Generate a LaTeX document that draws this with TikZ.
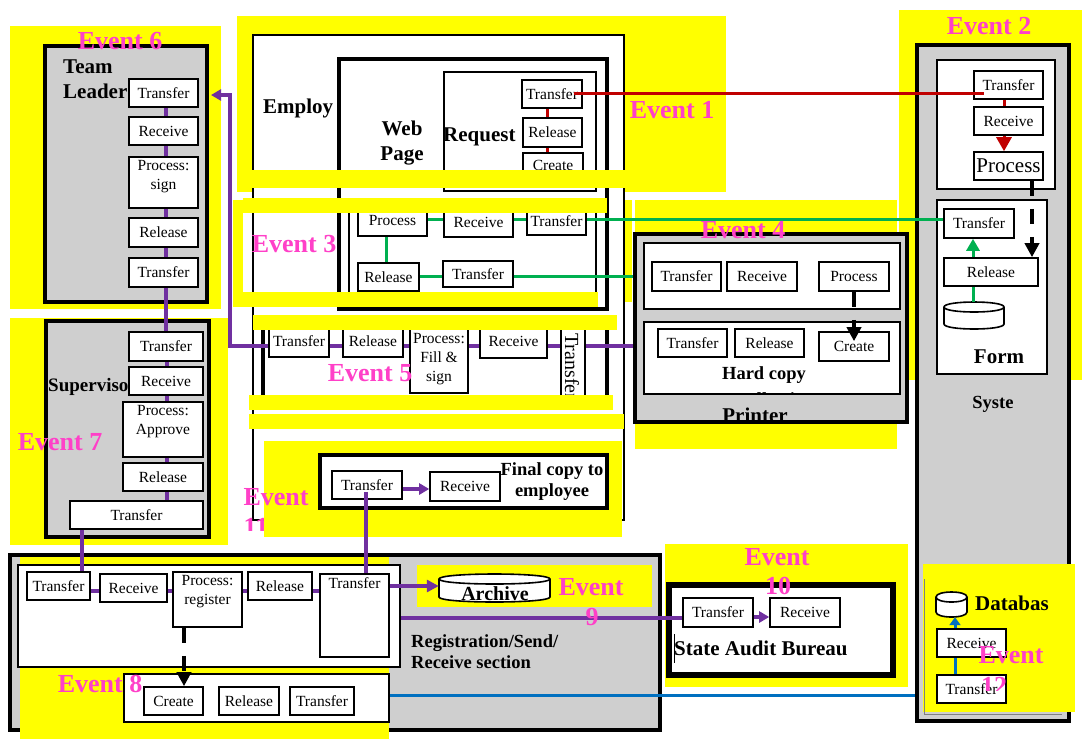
\documentclass[tikz,border=0pt]{standalone}
\usepackage{fontspec}
\setmainfont{Liberation Serif}
\usetikzlibrary{arrows.meta,calc}
\definecolor{evt}{RGB}{255,64,200}
\definecolor{pur}{RGB}{112,48,160}
\definecolor{grn}{RGB}{0,176,80}
\definecolor{redl}{RGB}{192,0,0}
\definecolor{blu}{RGB}{0,112,192}
\definecolor{gbox}{RGB}{207,207,207}
\definecolor{ylw}{RGB}{255,255,0}
\newcommand\bxfont{\fontsize{15.5}{19}\selectfont}
% box given by its corners: [style]{x1}{y1}{x2}{y2}{name}{text}
\newcommand\rbox[7][]{\node[#1,minimum width={(#4)-(#2)},minimum height={(#5)-(#3)}] (#6) at ({((#2)+(#4))/2},{((#3)+(#5))/2}) {#7};}
\newcommand\yfill[4]{\fill[ylw] (#1,#2) rectangle (#3,#4);}
% upright cylinder: {name}{x1}{y1}{x2}{y2}{ellipse half height}
\newcommand\cylnode[6]{%
  \filldraw[fill=white,line width=1.6pt] (#2,{#3+#6}) -- (#2,{#5-#6})
    .. controls (#2,{#5+#6/3}) and (#4,{#5+#6/3}) .. (#4,{#5-#6}) -- (#4,{#3+#6})
    .. controls (#4,{#3-#6/3}) and (#2,{#3-#6/3}) .. (#2,{#3+#6}) -- cycle;
  \draw[line width=1.6pt] (#2,{#3+#6}) .. controls (#2,{#3+#6*7/3}) and (#4,{#3+#6*7/3}) .. (#4,{#3+#6});
  \node[inner sep=0pt,minimum width={(#4)-(#2)},minimum height={(#5)-(#3)}] (#1) at ({((#2)+(#4))/2},{((#3)+(#5))/2}) {};}
\begin{document}
\begin{tikzpicture}[x=1pt,y=-1pt,
  sbox/.style={draw,fill=white,line width=1.6pt,inner sep=0pt,align=center,font=\bxfont},
  plbl/.style={anchor=north,align=center,inner sep=4pt,font=\bxfont},
  frame/.style={draw,fill=white,line width=1.8pt,inner sep=0pt},
  heavy/.style={draw,fill=gbox,line width=4pt,inner sep=0pt},
  lblB/.style={inner sep=0pt,font=\bfseries\fontsize{21}{25}\selectfont},
  lblM/.style={inner sep=0pt,font=\bfseries\fontsize{18.5}{21}\selectfont},
  evlab/.style={inner sep=0pt,text=evt,font=\bfseries\fontsize{26}{28}\selectfont},
  pline/.style={draw=pur,line width=3.5pt},
  gline/.style={draw=grn,line width=3pt},
  rline/.style={draw=redl,line width=3pt},
  bline/.style={draw=blu,line width=3pt},
  kdash/.style={draw=black,line width=4pt,dash pattern=on 15pt off 13pt,-{Triangle[length=14pt,width=14pt]}},
]
\useasboundingbox (0,0) rectangle (1084,740);
\fill[white] (0,0) rectangle (1084,740);

% ---------- highlighted event areas (behind) ----------
\yfill{10}{26}{221}{309}
\yfill{10}{318}{228}{545}
\yfill{237}{16}{726}{192}
\yfill{899}{10}{1082}{380}
\yfill{635}{200}{897}{449}
\yfill{665}{544}{908}{687}

% ---------- Team Leader ----------
\rbox[heavy]{45}{46}{207}{302}{tl}{}
\node[lblB,anchor=west,align=left] (tlname) at (63,79) {Team\\Leader};
\rbox[sbox]{129}{79}{198}{107}{tlT1}{Transfer}
\rbox[sbox]{129}{117}{198}{145}{tlR}{Receive}
\rbox[sbox,label={[plbl]north:{Process:\\sign}}]{129}{157}{198}{208}{tlP}{}
\rbox[sbox]{129}{218}{198}{247}{tlRel}{Release}
\rbox[sbox]{129}{258}{198}{287}{tlT2}{Transfer}

% ---------- Supervisor ----------
\rbox[heavy]{46}{321}{209}{537}{sup}{}
\node[inner sep=0pt,font=\bfseries\fontsize{19}{22}\selectfont,anchor=west] (supname) at (48,387) {Supervisor};
\rbox[sbox]{129}{332}{203}{361}{sT1}{Transfer}
\rbox[sbox]{129}{367}{203}{395}{sR}{Receive}
\rbox[sbox,label={[plbl]north:{Process:\\Approve}}]{123}{402}{203}{457}{sP}{}
\rbox[sbox]{123}{463}{203}{491}{sRel}{Release}
\rbox[sbox]{70}{501}{203}{529}{sT2}{Transfer}

% ---------- Employee / Web page ----------
\rbox[frame]{253}{35}{624}{520}{emp}{}
\node[lblB,anchor=west] (empname) at (263,108) {Employ};
\rbox[frame,line width=4pt]{339}{59}{607}{309}{web}{}
\node[lblB,align=center] (webname) at (402,143) {Web\\Page};
\rbox[frame]{444}{72}{596}{191}{req}{}
\node[lblB,anchor=west] (reqname) at (443,137) {Request};
\rbox[sbox]{522}{80}{582}{108}{rqT}{Transfer}
\rbox[sbox]{523}{118}{582}{147}{rqRel}{Release}
\rbox[sbox]{523}{153}{583}{178}{rqC}{Create}

\rbox[frame,line width=1.2pt]{349}{205}{596}{298}{wp3}{}
\rbox[sbox]{358}{205}{427}{236}{e3P}{Process}
\rbox[sbox]{444}{208}{513}{237}{e3R}{Receive}
\rbox[sbox]{527}{207}{586}{235}{e3T}{Transfer}
\rbox[sbox]{358}{263}{419}{291}{e3Rel}{Release}
\rbox[sbox]{443}{261}{513}{287}{e3T2}{Transfer}

\rbox[frame,line width=4pt]{263}{318}{607}{402}{e5box}{}
\rbox[sbox]{269}{325}{329}{357}{e5T}{Transfer}
\rbox[sbox]{343}{325}{403}{357}{e5Rel}{Release}
\rbox[sbox,label={[plbl,inner sep=9pt]north:{Process:\\Fill \&\\sign}}]{410}{325}{468}{393}{e5P}{}
\rbox[sbox]{480}{325}{547}{358}{e5R}{Receive}
\rbox[sbox]{561}{320}{585}{402}{e5Tv}{}
\node[inner sep=0pt,font=\fontsize{20}{22}\selectfont,rotate=-90,anchor=west] (e5Tvtxt) at (572,333) {Transfer};

% ---------- System ----------
\rbox[heavy]{917}{45}{1069}{721}{sys}{}
\node[inner sep=0pt,font=\bfseries\fontsize{18.5}{21}\selectfont] (sysname) at (993,404) {Syste};
\rbox[frame]{937}{60}{1055}{189}{sys2}{}
\rbox[sbox]{974}{71}{1043}{99}{s2T}{Transfer}
\rbox[sbox]{974}{107}{1043}{135}{s2R}{Receive}
\rbox[sbox,font=\fontsize{21}{24}\selectfont]{974}{152}{1043}{180}{s2P}{Process}
\rbox[frame]{937}{200}{1047}{374}{form}{}
\rbox[sbox]{944}{209}{1014}{238}{fT}{Transfer}
\rbox[sbox]{944}{258}{1038}{286}{fRel}{Release}
\cylnode{fCyl}{944}{302}{1004}{329}{5}
\node[lblB] (formname) at (999,357) {Form};

\yfill{923}{564}{1075}{712}
\draw[gray,line width=0.8pt] (924,579) -- (924,714) -- (1062,714);
\cylnode{dbCyl}{936}{592}{967}{617}{5}
\node[lblB,anchor=west] (dbname) at (975,603) {Databas};
\rbox[sbox]{937}{629}{1006}{657}{dbR}{Receive}
\rbox[sbox]{937}{675}{1006}{703}{dbT}{Transfer}

% ---------- Printer ----------
\rbox[heavy]{635}{234}{907}{422}{prn}{}
\rbox[frame]{644}{243}{900}{309}{prn1}{}
\rbox[frame]{644}{322}{900}{394}{prn2}{}
\rbox[sbox]{652}{262}{721}{291}{pT}{Transfer}
\rbox[sbox]{727}{262}{797}{291}{pR}{Receive}
\rbox[sbox]{819}{262}{889}{291}{pP}{Process}
\rbox[sbox]{658}{329}{727}{357}{pT2}{Transfer}
\rbox[sbox]{735}{329}{804}{357}{pRel}{Release}
\rbox[sbox]{819}{332}{889}{361}{pC}{Create}
\node[lblM] (hardcopy) at (764,375) {Hard copy};
\begin{scope}
  \clip (646,324) rectangle (898,393);
  \node[lblM] (hardcopy2) at (777,399) {collection};
\end{scope}
\node[lblB] (prnname) at (755,415) {Printer};

% ---------- Final copy ----------
\yfill{264}{441}{622}{537}
\rbox[frame,line width=4pt]{320}{455}{607}{508}{fc}{}
\rbox[sbox]{332}{471}{402}{499}{fcT}{Transfer}
\rbox[sbox]{430}{472}{500}{501}{fcR}{Receive}
\node[lblM,align=center] (fcname) at (552,482) {Final copy to\\employee};

% ---------- Registration / Send / Receive ----------
\rbox[heavy]{10}{555}{660}{730}{reg}{}
\yfill{20}{557}{389}{739}
\yfill{417}{565}{652}{607}
\rbox[frame]{18}{565}{400}{667}{rin}{}
\rbox[sbox]{27}{572}{90}{600}{rT1}{Transfer}
\rbox[sbox]{100}{574}{167}{602}{rR}{Receive}
\rbox[sbox,label={[plbl]north:{Process:\\register}}]{173}{572}{242}{627}{rP}{}
\rbox[sbox]{248}{572}{312}{600}{rRel}{Release}
\rbox[sbox,label={[plbl]north:Transfer}]{320}{574}{389}{657}{rT2}{}
\rbox[frame]{124}{674}{389}{722}{e8box}{}
\rbox[sbox]{144}{687}{203}{715}{e8C}{Create}
\rbox[sbox]{219}{687}{279}{715}{e8Rel}{Release}
\rbox[sbox]{290}{687}{354}{715}{e8T}{Transfer}
\cylnode{archive}{439}{574}{550}{602}{5}
\node[inner sep=0pt,font=\bfseries\fontsize{20}{22}\selectfont] (archtxt) at (495,594) {Archive};
\node[lblM,anchor=west,align=left] (regname) at (411,652) {Registration/Send/\\Receive section};

% ---------- State Audit Bureau ----------
\rbox[draw,fill=white,line width=6pt,inner sep=0pt]{669}{585}{893}{675}{sab}{}
\rbox[sbox]{683}{598}{753}{627}{sabT}{Transfer}
\rbox[sbox]{770}{598}{840}{627}{sabR}{Receive}
\node[lblB,anchor=west] (sabname) at (674,648) {State Audit Bureau};
\draw[line width=0.8pt] (674,634) -- (674,663);

% ---------- highlight strips laid over the boxes ----------
\yfill{237}{170}{726}{188}
\yfill{233}{200}{243}{307}
\yfill{243}{198}{607}{213}
\yfill{233}{292}{598}{307}
\yfill{625}{200}{632}{302}
\yfill{253}{315}{617}{330}
\yfill{249}{395}{613}{410}
\yfill{249}{414}{624}{429}

% ---------- alignment coordinates ----------
\coordinate (pl1) at (166,0);
\coordinate (pl2) at (167,0);
\coordinate (pl3) at (82,0);
\coordinate (pl4) at (0,591);
\coordinate (pl5) at (366,0);
\coordinate (pl6) at (0,489);
\coordinate (pl7) at (0,586);
\coordinate (pl8) at (0,618);
\coordinate (pl9) at (0,617);
\coordinate (pl10) at (0,346);
\coordinate (pl11) at (230,95);
\coordinate (g1) at (0,219);
\coordinate (g2) at (386,0);
\coordinate (g3) at (0,276);
\coordinate (g4) at (973,0);
\coordinate (r1) at (547,0);
\coordinate (r2) at (1004,0);
\coordinate (k1) at (1032,0);
\coordinate (k2) at (184,0);
\coordinate (b1) at (0,695);
\coordinate (b2) at (955,0);

% ---------- purple flow ----------
\draw[pline] (tlT1.south -| pl1) -- (tlR.north -| pl1);
\draw[pline] (tlR.south -| pl1) -- (tlP.north -| pl1);
\draw[pline] (tlP.south -| pl1) -- (tlRel.north -| pl1);
\draw[pline] (tlRel.south -| pl1) -- (tlT2.north -| pl1);
\draw[pline] (tlT2.south -| pl1) -- (sT1.north -| pl1);
\draw[pline] (sT1.south -| pl2) -- (sR.north -| pl2);
\draw[pline] (sR.south -| pl2) -- (sP.north -| pl2);
\draw[pline] (sP.south -| pl2) -- (sRel.north -| pl2);
\draw[pline] (sRel.south -| pl2) -- (sT2.north -| pl2);
\draw[pline] (sT2.south -| pl3) -- (rT1.north -| pl3);
\draw[pline] (rT1.east |- pl4) -- (rR.west |- pl4);
\draw[pline] (rR.east |- pl4) -- (rP.west |- pl4);
\draw[pline] (rP.east |- pl4) -- (rRel.west |- pl4);
\draw[pline] (rRel.east |- pl4) -- (rT2.west |- pl4);
\draw[pline] ($(fcT.south -| pl5)+(0,-8)$) -- (rT2.north -| pl5);
\draw[pline,-{Triangle[length=10pt,width=11pt]}] (fcT.east |- pl6) -- (fcR.west |- pl6);
\draw[pline,-{Triangle[length=12pt,width=12pt]}] (rT2.east |- pl7) -- (archive.west |- pl7);
\draw[pline] (rin.east |- pl8) -- (sabT.west |- pl8);
\draw[pline,-{Triangle[length=10pt,width=11pt]}] (sabT.east |- pl9) -- (sabR.west |- pl9);
\draw[pline] (e5T.east |- pl10) -- (e5Rel.west |- pl10);
\draw[pline] (e5Rel.east |- pl10) -- (e5P.west |- pl10);
\draw[pline] (e5P.east |- pl10) -- (e5R.west |- pl10);
\draw[pline] (e5R.east |- pl10) -- (e5Tv.west |- pl10);
\draw[pline] (e5Tv.east |- pl10) -- (prn.west |- pl10);
\draw[pline,-{Triangle[length=10pt,width=11pt]}] (e5T.west |- pl10) -| (pl11) -- ($(tl.east |- pl11)+(2,0)$);

% ---------- green flow ----------
\draw[gline] (e3P.east |- g1) -- (e3R.west |- g1);
\draw[gline] (e3R.east |- g1) -- (e3T.west |- g1);
\draw[gline] (e3T.east |- g1) -- (fT.west |- g1);
\draw[gline] (e3P.south -| g2) -- (e3Rel.north -| g2);
\draw[gline] (e3Rel.east |- g3) -- (e3T2.west |- g3);
\draw[gline] (e3T2.east |- g3) -- (prn.west |- g3);
\draw[gline] (fCyl.north -| g4) -- (fRel.south -| g4);
\draw[gline,-{Triangle[length=12pt,width=13pt]}] (fRel.north -| g4) -- (fT.south -| g4);

% ---------- red flow ----------
\draw[rline] (rqT.south -| r1) -- (rqRel.north -| r1);
\draw[rline] (rqRel.south -| r1) -- (rqC.north -| r1);
\coordinate (redA) at ($(rqT.east)+(-9,-1)$);
\draw[rline] (redA) -- ($(s2T.west |- redA)+(11,0)$);
\draw[rline] (s2T.south -| r2) -- (s2R.north -| r2);
\draw[rline,-{Triangle[length=14pt,width=15pt]}] (s2R.south -| r2) -- (s2P.north -| r2);

% ---------- black dashed flow ----------
\draw[kdash] (s2P.south -| k1) -- (fRel.north -| k1);
\draw[kdash] (pP.south) -- ($(pC.north)+(0,10)$);
\draw[kdash] (rP.south -| k2) -- (e8C.north -| k2);

% ---------- blue flow ----------
\draw[bline] (e8box.east |- b1) -- (sys.west |- b1);
\draw[bline] (dbT.north -| b2) -- (dbR.south -| b2);
\draw[bline,-{Triangle[length=8pt,width=11pt]}] (dbR.north -| b2) -- (dbCyl.south -| b2);

% ---------- event labels ----------
\node[evlab] (ev6) at (120,41) {Event 6};
\node[evlab] (ev1) at (672,110) {Event 1};
\node[evlab] (ev2) at (989,26) {Event 2};
\node[evlab] (ev3) at (294,244) {Event 3};
\node[evlab] (ev4) at (743,230) {Event 4};
\node[evlab] (ev5) at (370,373) {Event 5};
\node[evlab] (ev7) at (60,442) {Event 7};
\node[evlab] (ev8) at (100,684) {Event 8};
\node[evlab] (ev9a) at (591,587) {Event};
\node[evlab] (ev9b) at (592,617) {9};
\node[evlab] (ev10a) at (777,557) {Event};
\node[evlab] (ev10b) at (778,586) {10};
\node[evlab] (ev11a) at (276,497) {Event};
\begin{scope}
  \clip (235,505) rectangle (320,530);
  \node[evlab] (ev11b) at (256,527) {11};
\end{scope}
\node[evlab] (ev12a) at (1011,655) {Event};
\begin{scope}
  \clip (970,665) rectangle (1040,690);
  \node[evlab] (ev12b) at (994,686) {12};
\end{scope}
\end{tikzpicture}
\end{document}
